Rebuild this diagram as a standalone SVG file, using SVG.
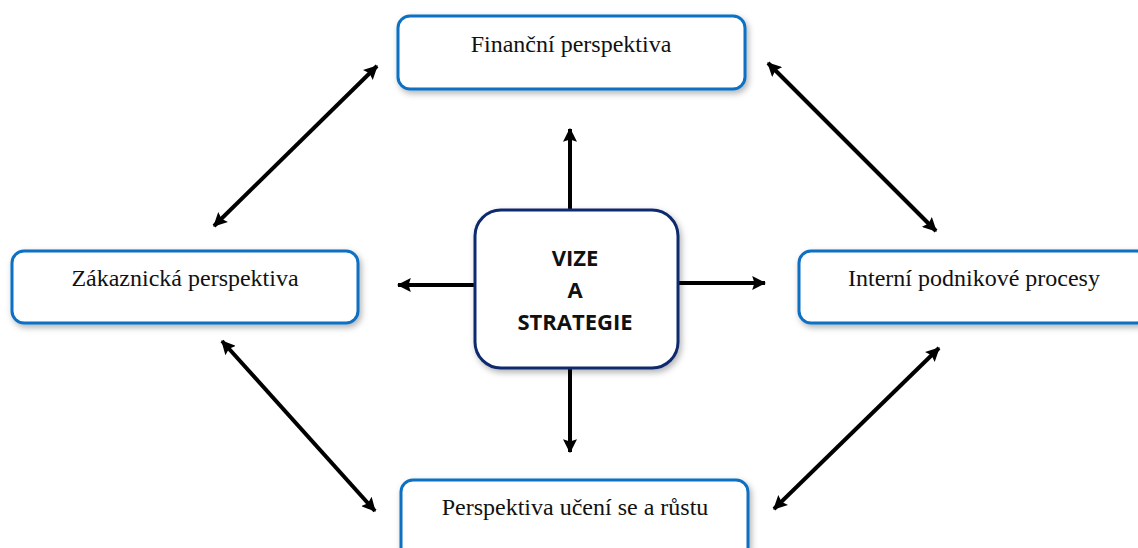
<svg xmlns="http://www.w3.org/2000/svg" width="1138" height="548" viewBox="0 0 1138 548">
<defs>
<style>
.box{fill:#fff;stroke:#0a6fc2;stroke-width:3;filter:url(#sh)}
.core{fill:#fff;stroke:#0f2a6e;stroke-width:3;filter:url(#sh)}
.lbl{font-family:"Liberation Serif","Times New Roman",serif;font-size:24px;fill:#111;text-anchor:middle}
.ctr{font-family:"Open Sans","Liberation Sans",sans-serif;font-weight:bold;font-size:22px;fill:#111;text-anchor:middle}
.con{stroke:#000;stroke-width:4;fill:none}
</style>
<filter id="sh" x="-10%" y="-10%" width="120%" height="130%">
<feDropShadow dx="2" dy="3" stdDeviation="3" flood-color="#000" flood-opacity="0.3"/>
</filter>
<marker id="ah" viewBox="0 0 12 12" refX="11" refY="6" markerWidth="14" markerHeight="14" markerUnits="userSpaceOnUse" orient="auto-start-reverse">
<path d="M0,0 L12,6 L0,12 L2,6 Z" fill="#000"/>
</marker>
</defs>
<rect width="1138" height="548" fill="#fff"/>
<g id="connectors">
<line class="con" x1="570" y1="209" x2="570" y2="129" marker-end="url(#ah)"/>
<line class="con" x1="570" y1="368" x2="570" y2="452" marker-end="url(#ah)"/>
<line class="con" x1="474" y1="285" x2="398" y2="285" marker-end="url(#ah)"/>
<line class="con" x1="678" y1="283" x2="765" y2="283" marker-end="url(#ah)"/>
<line class="con" x1="214" y1="226" x2="377" y2="66" marker-start="url(#ah)" marker-end="url(#ah)"/>
<line class="con" x1="768" y1="63" x2="936" y2="231" marker-start="url(#ah)" marker-end="url(#ah)"/>
<line class="con" x1="222" y1="341" x2="375" y2="511" marker-start="url(#ah)" marker-end="url(#ah)"/>
<line class="con" x1="939" y1="348" x2="774" y2="509" marker-start="url(#ah)" marker-end="url(#ah)"/>
</g>
<g id="financni">
<rect class="box" x="398" y="16" width="347" height="73" rx="12"/>
<text class="lbl" x="571" y="52">Finanční perspektiva</text>
</g>
<g id="zakaznicka">
<rect class="box" x="12" y="251" width="346" height="72" rx="12"/>
<text class="lbl" x="185" y="286">Zákaznická perspektiva</text>
</g>
<g id="interni">
<rect class="box" x="799" y="251" width="350" height="72" rx="12"/>
<text class="lbl" x="974" y="286">Interní podnikové procesy</text>
</g>
<g id="uceni">
<rect class="box" x="401" y="480" width="347" height="80" rx="12"/>
<text class="lbl" x="575" y="515">Perspektiva učení se a růstu</text>
</g>
<g id="vize">
<rect class="core" x="475" y="210" width="203" height="158" rx="26"/>
<text class="ctr" x="575" y="266">VIZE</text>
<text class="ctr" x="575" y="298">A</text>
<text class="ctr" x="575" y="330">STRATEGIE</text>
</g>
</svg>
